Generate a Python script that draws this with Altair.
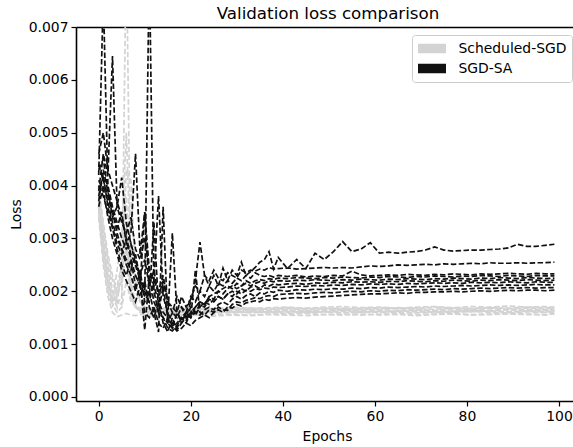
import altair as alt
import pandas as pd

# Loss values are given in units of 1e-3
LOSS_UNIT = 1e-3

# ---------------- SGD-SA (black) ----------------
B_EPOCHS = list(range(40)) + list(range(41, 100, 2))

B1 = [4.2, 7.6, 4.0, 3.6, 3.3, 3.0, 2.8, 2.9, 2.5, 2.3, 2.6, 2.1, 2.4, 1.9, 2.2, 1.8, 1.6, 1.9, 1.7, 1.5,
      1.8, 2.2, 2.93, 2.3, 2.1, 2.3, 2.1, 2.44, 2.2, 2.4, 2.3, 2.55, 2.3, 2.37, 2.45, 2.55, 2.6, 2.75, 2.42, 2.64,
      2.43, 2.6, 2.43, 2.72, 2.6, 2.75, 2.94, 2.75, 2.8, 2.92, 2.72, 2.74, 2.72, 2.74, 2.75, 2.78, 2.84, 2.78, 2.76, 2.77,
      2.78, 2.78, 2.79, 2.8, 2.82, 2.89, 2.85, 2.85, 2.87, 2.89]
B2 = [3.9, 4.6, 4.2, 6.45, 3.6, 3.3, 3.1, 3.4, 2.8, 2.6, 3.0, 2.4, 2.2, 2.0, 2.3, 1.8, 1.7, 1.6, 1.9, 1.7,
      1.85, 2.1, 2.0, 2.3, 2.2, 2.4, 2.25, 2.2, 2.35, 2.3, 2.25, 2.4, 2.35, 2.4, 2.38, 2.42, 2.4, 2.45, 2.42, 2.43,
      2.44, 2.42, 2.43, 2.44, 2.45, 2.44, 2.45, 2.44, 2.46, 2.48, 2.47, 2.48, 2.5, 2.49, 2.5, 2.51, 2.5, 2.52, 2.51, 2.52,
      2.53, 2.52, 2.54, 2.53, 2.53, 2.54, 2.53, 2.54, 2.54, 2.55]
B3 = [4.6, 5.0, 4.3, 4.0, 3.7, 3.4, 3.0, 2.7, 2.5, 2.2, 1.9, 8.2, 2.0, 1.6, 1.5, 1.4, 1.6, 1.5, 1.7, 1.6,
      1.9, 1.8, 2.0, 1.9, 2.1, 2.0, 2.15, 2.1, 2.2, 2.15, 2.25, 2.2, 2.3, 2.25, 2.35, 2.3, 2.28, 2.3, 2.27, 2.3,
      2.28, 2.3, 2.27, 2.29, 2.28, 2.3, 2.29, 2.38, 2.31, 2.29, 2.3, 2.31, 2.3, 2.32, 2.31, 2.3, 2.32, 2.31, 2.33, 2.32,
      2.31, 2.33, 2.32, 2.33, 2.34, 2.33, 2.32, 2.34, 2.33, 2.33]
B4 = [4.4, 4.1, 3.8, 3.5, 3.2, 3.5, 2.9, 3.1, 4.6, 2.7, 3.5, 2.4, 2.1, 1.8, 1.6, 1.5, 1.3, 1.4, 1.5, 1.4,
      1.6, 1.7, 1.8, 1.75, 1.9, 1.95, 2.0, 2.05, 2.1, 2.05, 2.15, 2.1, 2.2, 2.15, 2.2, 2.22, 2.2, 2.24, 2.22, 2.25,
      2.24, 2.26, 2.25, 2.24, 2.26, 2.25, 2.27, 2.26, 2.25, 2.27, 2.26, 2.28, 2.27, 2.26, 2.28, 2.27, 2.29, 2.28, 2.27, 2.29,
      2.28, 2.3, 2.29, 2.28, 2.3, 2.29, 2.28, 2.3, 2.29, 2.29]
B5 = [3.7, 4.3, 3.9, 3.4, 3.6, 4.15, 3.3, 2.9, 2.6, 2.3, 2.0, 1.8, 2.2, 3.8, 1.9, 1.6, 1.4, 1.3, 1.5, 1.6,
      1.5, 1.7, 1.8, 1.75, 1.9, 1.85, 2.0, 1.95, 2.05, 2.1, 2.05, 2.1, 2.15, 2.1, 2.15, 2.18, 2.15, 2.2, 2.18, 2.2,
      2.19, 2.21, 2.2, 2.22, 2.21, 2.2, 2.22, 2.21, 2.23, 2.22, 2.21, 2.23, 2.22, 2.24, 2.23, 2.22, 2.24, 2.23, 2.25, 2.24,
      2.23, 2.25, 2.24, 2.26, 2.25, 2.24, 2.26, 2.25, 2.24, 2.25]
B6 = [4.0, 3.8, 3.5, 3.2, 2.9, 2.7, 3.0, 2.6, 2.3, 2.1, 3.5, 1.9, 3.3, 1.7, 1.5, 1.3, 1.25, 1.35, 1.5, 1.45,
      1.6, 1.55, 1.7, 1.8, 1.75, 1.85, 1.9, 1.85, 1.95, 2.0, 1.95, 2.05, 2.0, 2.08, 2.1, 2.05, 2.12, 2.1, 2.14, 2.12,
      2.14, 2.15, 2.13, 2.16, 2.15, 2.17, 2.16, 2.18, 2.17, 2.18, 2.17, 2.19, 2.18, 2.2, 2.19, 2.18, 2.2, 2.19, 2.21, 2.2,
      2.19, 2.21, 2.2, 2.22, 2.21, 2.2, 2.22, 2.21, 2.2, 2.21]
B7 = [3.6, 4.0, 3.7, 3.3, 3.0, 2.8, 2.6, 2.4, 2.7, 2.2, 1.27, 2.3, 1.8, 1.6, 2.1, 1.5, 3.1, 1.6, 1.4, 1.5,
      1.7, 1.6, 1.75, 1.7, 1.85, 1.8, 1.9, 1.85, 1.95, 1.9, 2.0, 1.95, 2.02, 2.0, 2.05, 2.03, 2.06, 2.05, 2.08, 2.07,
      2.08, 2.1, 2.09, 2.11, 2.1, 2.12, 2.11, 2.13, 2.12, 2.14, 2.13, 2.14, 2.13, 2.15, 2.14, 2.15, 2.16, 2.15, 2.16, 2.15,
      2.17, 2.16, 2.17, 2.16, 2.18, 2.17, 2.16, 2.18, 2.17, 2.17]
B8 = [4.3, 4.5, 3.9, 3.5, 3.1, 2.8, 2.5, 2.3, 2.0, 2.4, 1.8, 2.0, 1.6, 1.23, 3.6, 1.4, 1.3, 1.6, 1.45, 1.55,
      1.5, 1.6, 1.55, 1.65, 1.7, 1.65, 1.75, 1.8, 1.75, 1.85, 1.9, 1.85, 1.92, 1.95, 1.9, 1.97, 1.95, 2.0, 1.98, 2.02,
      2.0, 2.03, 2.02, 2.04, 2.03, 2.05, 2.04, 2.06, 2.05, 2.07, 2.06, 2.08, 2.07, 2.08, 2.09, 2.08, 2.1, 2.09, 2.1, 2.11,
      2.1, 2.11, 2.12, 2.11, 2.12, 2.11, 2.12, 2.13, 2.12, 2.12]
B9 = [3.8, 4.2, 3.6, 3.2, 2.8, 2.5, 2.3, 2.6, 2.1, 1.9, 2.2, 1.7, 1.5, 1.8, 1.4, 1.23, 1.5, 1.27, 1.4, 1.6,
      1.5, 2.4, 1.6, 1.55, 1.65, 1.6, 1.7, 1.65, 1.64, 1.75, 1.8, 1.78, 1.83, 1.85, 1.88, 1.86, 1.9, 1.92, 1.9, 1.94,
      1.95, 1.96, 1.95, 1.97, 1.98, 1.97, 1.99, 2.0, 1.99, 2.01, 2.0, 2.02, 2.01, 2.03, 2.02, 2.03, 2.04, 2.03, 2.05, 2.04,
      2.05, 2.06, 2.05, 2.06, 2.07, 2.06, 2.07, 2.06, 2.07, 2.07]
B10 = [4.1, 3.9, 3.4, 3.0, 2.7, 2.4, 2.2, 2.0, 1.8, 2.1, 1.6, 1.5, 1.7, 1.4, 1.3, 1.5, 1.35, 1.25, 1.3, 1.4,
       1.35, 1.45, 1.5, 1.55, 1.5, 1.6, 1.65, 1.6, 1.7, 1.68, 1.75, 1.72, 1.78, 1.8, 1.82, 1.8, 1.85, 1.83, 1.86, 1.85,
       1.87, 1.88, 1.87, 1.89, 1.9, 1.91, 1.92, 1.93, 1.94, 1.95, 1.95, 1.96, 1.97, 1.96, 1.98, 1.98, 1.99, 1.99, 2.0, 1.99,
       2.0, 2.01, 2.0, 2.01, 2.02, 2.01, 2.02, 2.02, 2.01, 2.02]
SGD_SA = [B1, B2, B3, B4, B5, B6, B7, B8, B9, B10]

# ---------------- Scheduled-SGD (light grey) ----------------
G_EPOCHS = list(range(15)) + list(range(17, 98, 4)) + [99]

G1 = [3.8, 3.0, 2.4, 2.0, 1.8, 1.75, 8.6, 1.9, 1.7, 1.65, 1.6, 1.62, 1.6, 1.58, 1.6,
      1.6, 1.58, 1.6, 1.59, 1.61, 1.6, 1.58, 1.6, 1.61, 1.59, 1.6, 1.62, 1.6, 1.59, 1.61, 1.6, 1.62, 1.6, 1.59, 1.61, 1.6, 1.6]
G2 = [3.6, 2.8, 2.2, 1.8, 2.4, 3.0, 5.0, 2.5, 2.0, 1.8, 1.7, 1.65, 1.68, 1.66, 1.65,
      1.66, 1.67, 1.65, 1.68, 1.66, 1.67, 1.69, 1.67, 1.68, 1.66, 1.68, 1.69, 1.67, 1.68, 1.7, 1.68, 1.67, 1.69, 1.68, 1.7, 1.69, 1.68]
G3 = [3.9, 3.2, 2.6, 2.2, 1.9, 2.2, 4.3, 4.1, 2.2, 1.8, 1.7, 1.68, 1.66, 1.65, 1.64,
      1.64, 1.63, 1.65, 1.64, 1.66, 1.64, 1.65, 1.63, 1.65, 1.66, 1.64, 1.65, 1.67, 1.65, 1.64, 1.66, 1.65, 1.67, 1.65, 1.66, 1.65, 1.66]
G4 = [3.5, 2.6, 2.0, 1.7, 2.1, 2.5, 2.8, 2.0, 1.7, 1.6, 1.58, 1.57, 1.56, 1.57, 1.56,
      1.56, 1.55, 1.57, 1.56, 1.55, 1.57, 1.56, 1.58, 1.56, 1.57, 1.55, 1.57, 1.58, 1.56, 1.57, 1.58, 1.56, 1.57, 1.58, 1.57, 1.56, 1.58]
G5 = [3.7, 2.9, 2.3, 1.9, 1.7, 2.6, 3.3, 1.9, 1.7, 1.65, 1.63, 1.62, 1.64, 1.62, 1.63,
      1.62, 1.61, 1.63, 1.62, 1.64, 1.62, 1.63, 1.61, 1.63, 1.64, 1.62, 1.63, 1.62, 1.64, 1.63, 1.62, 1.64, 1.63, 1.65, 1.63, 1.64, 1.63]
G6 = [4.0, 3.3, 2.7, 2.3, 2.0, 2.4, 2.9, 2.2, 1.75, 1.62, 1.61, 1.6, 1.62, 1.61, 1.6,
      1.6, 1.62, 1.6, 1.61, 1.59, 1.61, 1.62, 1.6, 1.61, 1.62, 1.6, 1.61, 1.63, 1.61, 1.6, 1.62, 1.61, 1.63, 1.61, 1.62, 1.61, 1.62]
G7 = [3.6, 2.7, 2.1, 1.75, 1.6, 1.7, 2.2, 1.8, 1.72, 1.69, 1.7, 1.68, 1.69, 1.7, 1.68,
      1.68, 1.69, 1.67, 1.7, 1.68, 1.69, 1.7, 1.68, 1.7, 1.71, 1.69, 1.7, 1.68, 1.7, 1.71, 1.69, 1.71, 1.7, 1.72, 1.7, 1.71, 1.7]
G8 = [3.4, 2.5, 1.9, 1.6, 1.52, 1.55, 1.58, 1.55, 1.54, 1.56, 1.55, 1.54, 1.55, 1.56, 1.54,
      1.54, 1.55, 1.53, 1.55, 1.54, 1.56, 1.55, 1.54, 1.56, 1.55, 1.57, 1.55, 1.56, 1.54, 1.56, 1.57, 1.55, 1.56, 1.57, 1.56, 1.55, 1.57]
G9 = [3.8, 3.1, 2.5, 2.0, 1.75, 1.9, 3.8, 2.1, 1.75, 1.65, 1.62, 1.61, 1.6, 1.62, 1.61,
      1.61, 1.6, 1.62, 1.61, 1.63, 1.61, 1.6, 1.62, 1.61, 1.63, 1.62, 1.6, 1.62, 1.63, 1.61, 1.62, 1.64, 1.62, 1.61, 1.63, 1.62, 1.63]
G10 = [3.7, 2.8, 2.2, 1.8, 1.9, 2.3, 2.6, 1.9, 1.7, 1.65, 1.67, 1.66, 1.65, 1.67, 1.66,
       1.66, 1.65, 1.67, 1.66, 1.68, 1.66, 1.67, 1.65, 1.67, 1.68, 1.66, 1.67, 1.69, 1.67, 1.66, 1.68, 1.67, 1.69, 1.67, 1.68, 1.67, 1.68]
SCHED_SGD = [G1, G2, G3, G4, G5, G6, G7, G8, G9, G10]

METHODS = ["Scheduled-SGD", "SGD-SA"]
COLORS = ["#d3d3d3", "#111111"]
X_TICKS = [0, 20, 40, 60, 80, 100]
Y_TICKS = [0.0, 0.001, 0.002, 0.003, 0.004, 0.005, 0.006, 0.007]
TITLE = "Validation loss comparison"


def build(method, epochs, series_list, prefix):
    rows = []
    for i, s in enumerate(series_list):
        for e, v in zip(epochs, s):
            rows.append({"method": method, "run": f"{prefix}{i}", "epoch": e, "loss": v * LOSS_UNIT})
    return pd.DataFrame(rows)


df_g = build(METHODS[0], G_EPOCHS, SCHED_SGD, "g")
df_b = build(METHODS[1], B_EPOCHS, SGD_SA, "b")

FONT = "DejaVu Sans"
xscale = alt.Scale(domain=[-4.93, 103.04], nice=False, zero=False)
yscale = alt.Scale(domain=[-0.000076, 0.007], nice=False, zero=False)
cscale = alt.Scale(domain=METHODS, range=COLORS)

legend = alt.Legend(
    title=None, orient="none", legendX=336, legendY=8,
    symbolType="M-4,0L4,0", symbolSize=49, symbolStrokeWidth=9.7, symbolDash=[1, 0],
    symbolOffset=6.5, clipHeight=17,
    labelFont=FONT, labelFontSize=13.9, labelColor="#000000",
    labelOffset=18, rowPadding=3, padding=5, strokeColor="#cccccc", cornerRadius=3,
    fillColor="#ffffff",
)

x_bottom = alt.X("epoch:Q", scale=xscale,
                 axis=alt.Axis(values=X_TICKS, title="Epochs", format="d", orient="bottom",
                               titleX=251, titleAlign="center", titlePadding=7))
x_top = alt.X("epoch:Q", scale=xscale,
              axis=alt.Axis(orient="top", labels=False, ticks=False, domain=True,
                            title=TITLE, titleFontSize=16.7, titleX=251.5, titleAlign="center",
                            titleBaseline="alphabetic", titlePadding=8.3))
y_axis = alt.Axis(values=Y_TICKS, format=".3f", title="Loss")

gray = alt.Chart(df_g).mark_line(strokeDash=[5.5, 2.4], strokeWidth=1.7, clip=True).encode(
    x=x_bottom, y=alt.Y("loss:Q", scale=yscale, axis=y_axis),
    color=alt.Color("method:N", scale=cscale, legend=legend),
    detail="run:N", order="epoch:Q",
)
black = alt.Chart(df_b).mark_line(strokeDash=[5.5, 2.4], strokeWidth=1.7, clip=True).encode(
    x=x_top, y=alt.Y("loss:Q", scale=yscale, axis=y_axis),
    color=alt.Color("method:N", scale=cscale, legend=legend),
    detail="run:N", order="epoch:Q",
)

chart = alt.layer(gray, black).resolve_axis(x="independent").properties(
    width=497, height=374,
    padding={"left": 76, "top": 27, "right": 0, "bottom": 46},
    autosize=alt.AutoSizeParams(type="none"),
).configure_view(stroke=None).configure_axis(
    grid=False, domainColor="#000000", domainWidth=1.6, tickColor="#000000", tickWidth=1.2,
    tickSize=5, labelPadding=3, labelFont=FONT, labelFontSize=13.9, labelColor="#000000",
    titleFont=FONT, titleFontSize=13.9, titleFontWeight="normal", titleColor="#000000",
    titlePadding=5,
)

chart.save("out.html", embed_options={"renderer": "svg", "actions": False})
